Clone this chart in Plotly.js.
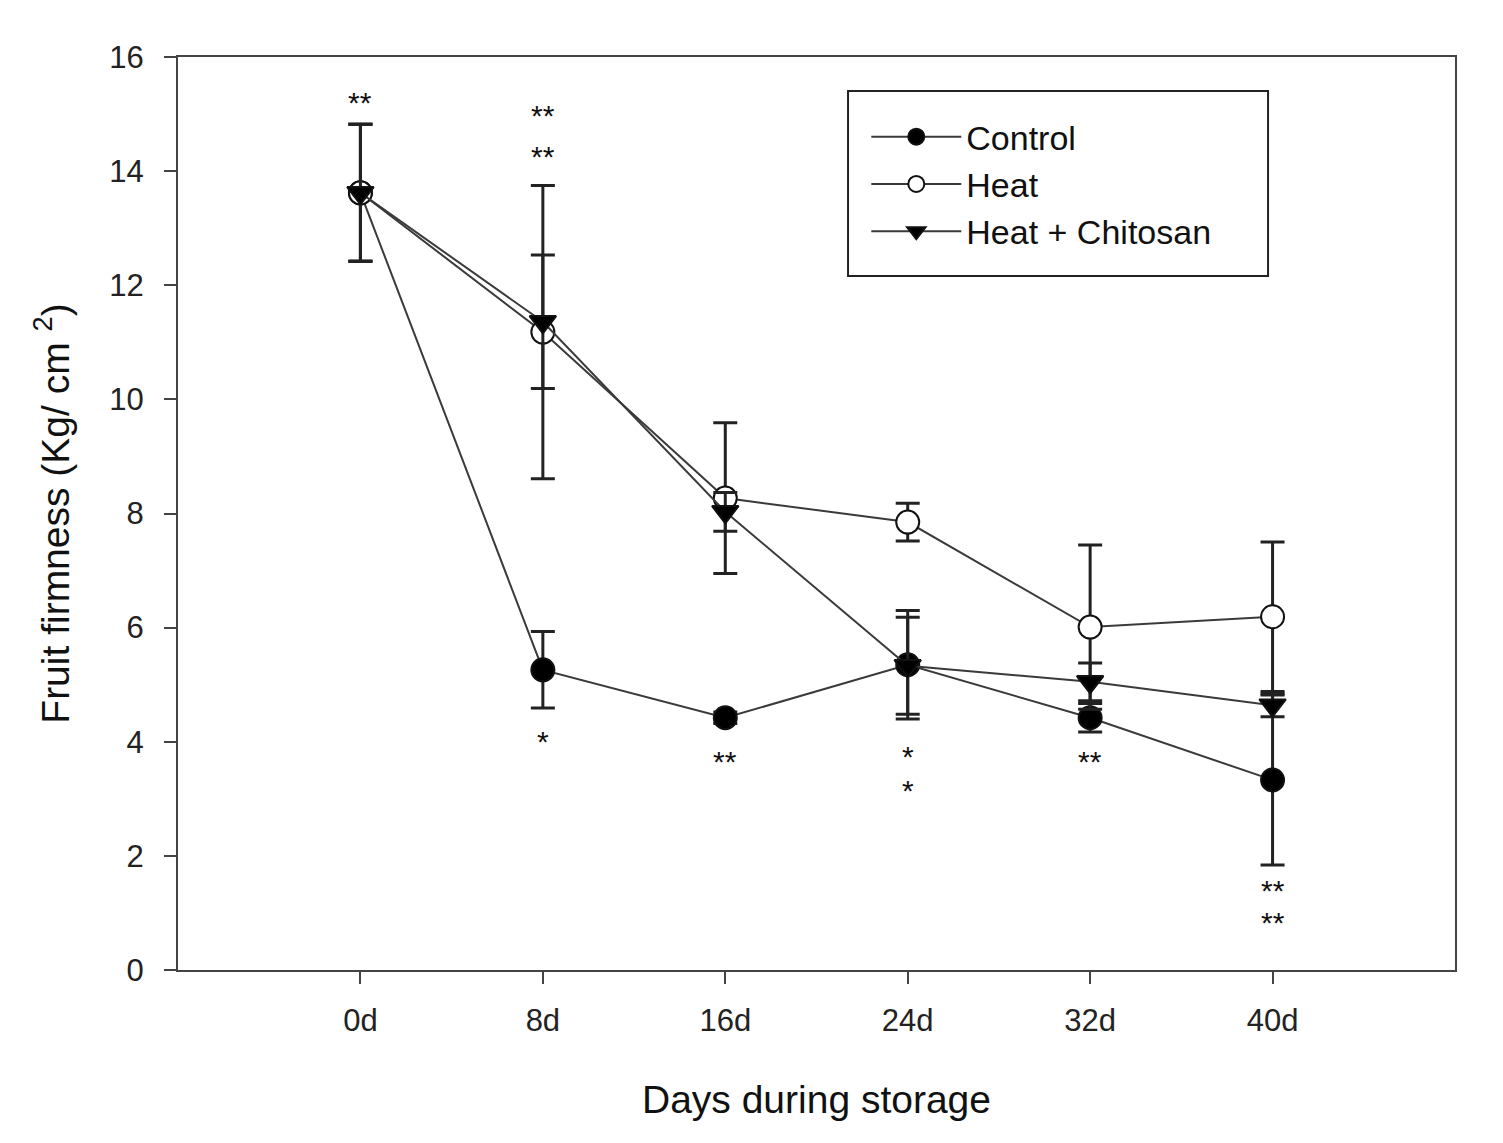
<!DOCTYPE html>
<html>
<head>
<meta charset="utf-8">
<script src="https://cdn.plot.ly/plotly-3.0.1.min.js"></script>
<style>
  html, body { margin: 0; padding: 0; background: #fff; }
  #graph { width: 1503px; height: 1143px; }
</style>
</head>
<body>
<div id="graph"></div>
<script>
const days = ['0d', '8d', '16d', '24d', '32d', '40d'];

const controlMean = [13.62, 5.26, 4.42, 5.35, 4.42, 3.33];
const controlErr = [1.2, 0.67, 0.1, 0.95, 0.25, 1.49];

const heatMean = [13.62, 11.18, 8.27, 7.85, 6.01, 6.19];
const heatErr = [1.2, 2.57, 1.32, 0.33, 1.44, 1.31];

const chitosanMean = [13.62, 11.36, 8.03, 5.33, 5.05, 4.64];
const chitosanErr = [1.2, 1.17, 0.34, 0.85, 0.33, 0.2];

// significance marks: label, day index, y value
const starLabels = ['**', '**', '**', '*', '**', '*', '*', '**', '**', '**'];
const starDay = [0, 1, 1, 1, 2, 3, 3, 4, 5, 5];
const starY = [15.2, 14.98, 14.26, 4.0, 3.66, 3.74, 3.14, 3.66, 1.39, 0.84];

const lineColor = '#3a3a3a';
const fontFam = 'Liberation Sans, Arial, sans-serif';

function series(name, y, err, symbol, fill) {
  return {
    x: days.map((d, i) => i),
    y: y,
    name: name,
    type: 'scatter',
    mode: 'lines+markers',
    line: { color: lineColor, width: 2 },
    marker: { symbol: symbol, size: 23, color: fill, line: { color: '#111', width: 2 } },
    error_y: { type: 'data', array: err, visible: true, color: '#222', thickness: 3, width: 12 }
  };
}

const traces = [
  series('Control', controlMean, controlErr, 'circle', '#000'),
  series('Heat', heatMean, heatErr, 'circle', '#fff'),
  series('Heat + Chitosan', chitosanMean, chitosanErr, 'triangle-down', '#000')
];

const annotations = starLabels.map((s, i) => ({
  x: starDay[i], y: starY[i], xref: 'x', yref: 'y',
  text: s, showarrow: false,
  font: { family: fontFam, size: 30, color: '#111' }
}));

const layout = {
  width: 1503,
  height: 1143,
  margin: { l: 178, r: 48, t: 57, b: 173 },
  paper_bgcolor: '#fff',
  plot_bgcolor: '#fff',
  font: { family: fontFam, color: '#222' },
  showlegend: true,
  legend: {
    x: 0.539, y: 0.944, xanchor: 'left', yanchor: 'top',
    borderwidth: 0, bgcolor: 'rgba(0,0,0,0)',
    font: { size: 34, color: '#111' },
    itemwidth: 90,
    tracegroupgap: 0
  },
  // legend frame, drawn separately to get the roomier box of the original
  shapes: [{
    type: 'rect', xref: 'paper', yref: 'paper',
    x0: 0.5247, x1: 0.8536, y0: 0.7601, y1: 0.9628,
    line: { color: '#222', width: 2 }, layer: 'above'
  }],
  xaxis: {
    range: [-1, 6],
    tickvals: days.map((d, i) => i),
    ticktext: days,
    ticks: 'outside', ticklen: 12, tickwidth: 2, tickcolor: '#444',
    ticklabelstandoff: 10,
    showline: true, linecolor: '#444', linewidth: 2, mirror: true,
    showgrid: false, zeroline: false,
    tickfont: { size: 31, color: '#222' },
    title: { text: 'Days during storage', font: { size: 39, color: '#111' }, standoff: 48 }
  },
  yaxis: {
    range: [0, 16],
    tickvals: [0, 2, 4, 6, 8, 10, 12, 14, 16],
    ticks: 'outside', ticklen: 12, tickwidth: 2, tickcolor: '#444',
    ticklabelstandoff: 14,
    showline: true, linecolor: '#444', linewidth: 2, mirror: true,
    showgrid: false, zeroline: false,
    tickfont: { size: 31, color: '#222' },
    title: { text: 'Fruit firmness (Kg/ cm <sup>2</sup>)', font: { size: 39, color: '#111' }, standoff: 28 }
  },
  annotations: annotations
};

Plotly.newPlot('graph', traces, layout, { displayModeBar: false });
</script>
</body>
</html>
